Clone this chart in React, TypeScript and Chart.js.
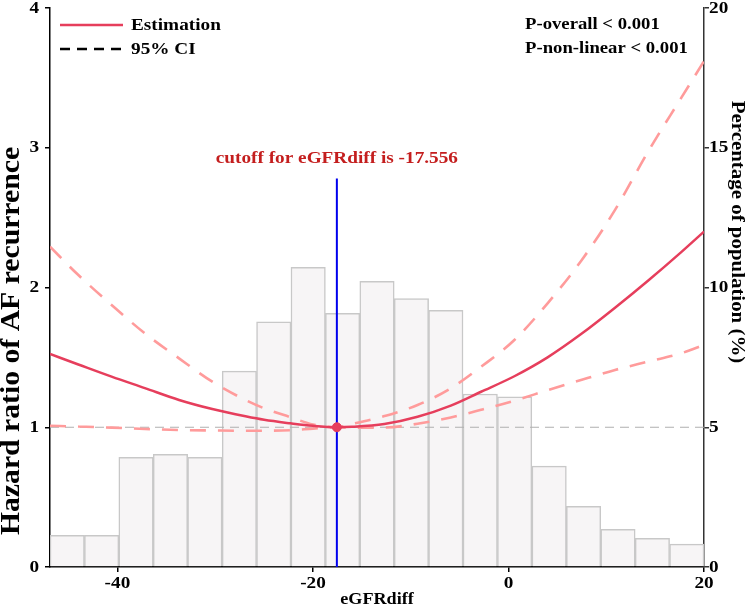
import React, { useEffect, useRef } from "react";
import { Chart, registerables } from "chart.js";
Chart.register(...registerables);

// ---------- data ----------
const X_MIN = -46.9;
const X_MAX = 20;
const xTicks = [-40, -20, 0, 20];
const hrTicks = [0, 1, 2, 3, 4];
const pctTicks = [0, 5, 10, 15, 20];

const binCenters = [-45.14, -41.62, -38.1, -34.58, -31.06, -27.53, -24.01, -20.49, -16.97, -13.45, -9.93, -6.41, -2.89, 0.63, 4.16, 7.68, 11.2, 14.72, 18.24];
const popPct = [1.13, 1.13, 3.92, 4.03, 3.92, 7.01, 8.77, 10.72, 9.08, 10.22, 9.6, 9.18, 6.19, 6.09, 3.61, 2.17, 1.35, 1.03, 0.82];

const curveX = [-46.9, -44, -40.6, -37.2, -33.7, -30.3, -26.9, -25, -22.3, -20, -17.556, -16, -12.7, -9.3, -5.9, -2.8, 0.6, 4, 7.5, 10.9, 14.3, 17.7, 20];
const hrEst = [1.524, 1.449, 1.362, 1.28, 1.195, 1.13, 1.078, 1.053, 1.028, 1.01, 1.0, 1.003, 1.023, 1.075, 1.155, 1.254, 1.365, 1.5, 1.67, 1.855, 2.05, 2.255, 2.4];
const hrUpper = [2.292, 2.089, 1.875, 1.672, 1.493, 1.326, 1.195, 1.136, 1.072, 1.02, 1.0, 1.023, 1.08, 1.159, 1.279, 1.433, 1.624, 1.887, 2.197, 2.555, 2.975, 3.36, 3.62];
const hrLower = [1.011, 1.005, 0.997, 0.988, 0.98, 0.977, 0.975, 0.975, 0.979, 0.99, 1.0, 0.997, 0.998, 1.025, 1.07, 1.125, 1.19, 1.265, 1.34, 1.41, 1.47, 1.53, 1.589];

const cutoff = -17.556;
const cutoffTop = 2.78;
const refHR = 1;

const EST_COLOR = "#E63E5C";
const CI_COLOR = "#FF9B9B";
const SX = 1.1;
const FONT = '"Liberation Serif", "Times New Roman", serif';

function drawText(
  ctx: CanvasRenderingContext2D,
  s: string,
  x: number,
  y: number,
  size: number,
  align: CanvasTextAlign,
  rot = 0,
  color = "#000",
  baseline: CanvasTextBaseline = "middle"
) {
  ctx.save();
  ctx.translate(x, y);
  if (rot) ctx.rotate(rot);
  ctx.scale(SX, 1);
  ctx.font = `bold ${size}px ${FONT}`;
  ctx.textAlign = align;
  ctx.textBaseline = baseline;
  ctx.fillStyle = color;
  ctx.fillText(s, 0, 0);
  ctx.restore();
}

const textPlugin = {
  id: "texts",
  afterDraw(chart: any) {
    const ctx: CanvasRenderingContext2D = chart.ctx;
    const { x, y, y2 } = chart.scales;
    const area = chart.chartArea;
    hrTicks.forEach((v) => drawText(ctx, String(v), 39, y.getPixelForValue(v), 17.5, "right"));
    pctTicks.forEach((v) => drawText(ctx, String(v), 709, y2.getPixelForValue(v), 17.5, "left"));
    xTicks.forEach((v) => drawText(ctx, String(v), x.getPixelForValue(v), 583, 17.5, "center"));

    drawText(ctx, "eGFRdiff", (area.left + area.right) / 2, 600, 16.5, "center");
    drawText(ctx, "Hazard ratio of AF recurrence", 19, 341, 27, "center", -Math.PI / 2, "#000", "alphabetic");
    drawText(ctx, "Percentage of population (%)", 732, 232, 19, "center", Math.PI / 2, "#000", "alphabetic");

    // legend
    ctx.save();
    ctx.lineWidth = 2.5;
    ctx.strokeStyle = EST_COLOR;
    ctx.beginPath();
    ctx.moveTo(60, 25);
    ctx.lineTo(123, 25);
    ctx.stroke();
    ctx.strokeStyle = "#000";
    ctx.setLineDash([10, 7]);
    ctx.beginPath();
    ctx.moveTo(60, 49);
    ctx.lineTo(123, 49);
    ctx.stroke();
    ctx.restore();
    drawText(ctx, "Estimation", 131, 25, 17.5, "left");
    drawText(ctx, "95% CI", 131, 49, 17.5, "left");

    drawText(ctx, "P-overall < 0.001", 525, 25, 17, "left");
    drawText(ctx, "P-non-linear < 0.001", 525, 49, 17, "left");

    drawText(ctx, "cutoff for eGFRdiff is -17.556", x.getPixelForValue(cutoff), 158, 17.5, "center", 0, "#C41E1E");
  },
};

const axisBase = (color: string) => ({
  ticks: { display: false },
  grid: { display: true, offset: false, drawOnChartArea: false, drawTicks: true, tickLength: 5, color, lineWidth: 1.5 },
  border: { display: true, color, width: 1.5 },
});

export default function App() {
  const ref = useRef<HTMLCanvasElement | null>(null);
  useEffect(() => {
    if (!ref.current) return;
    const pts = (ys: number[]) => curveX.map((v, i) => ({ x: v, y: ys[i] }));
    const chart = new Chart(ref.current, {
      type: "bar",
      data: {
        datasets: [
          {
            type: "bar",
            data: binCenters.map((c, i) => ({ x: c, y: popPct[i] })),
            yAxisID: "y2",
            backgroundColor: "#F7F5F6",
            borderColor: "#C8C8C8",
            borderWidth: 1.5,
            barPercentage: 1,
            categoryPercentage: 1,
            order: 10,
          } as any,
          {
            type: "line",
            data: [{ x: X_MIN, y: refHR }, { x: X_MAX, y: refHR }],
            yAxisID: "y",
            borderColor: "#B0B0B0",
            borderWidth: 1.2,
            borderDash: [9, 6],
            pointRadius: 0,
            order: 9,
          } as any,
          {
            type: "line",
            data: [{ x: cutoff, y: 0 }, { x: cutoff, y: cutoffTop }],
            yAxisID: "y",
            borderColor: "#0000EE",
            borderWidth: 2,
            pointRadius: 0,
            order: 8,
          } as any,
          {
            type: "line",
            data: pts(hrUpper),
            yAxisID: "y",
            borderColor: CI_COLOR,
            borderWidth: 2.6,
            borderDash: [16, 12],
            pointRadius: 0,
            cubicInterpolationMode: "monotone",
            order: 4,
          } as any,
          {
            type: "line",
            data: pts(hrLower),
            yAxisID: "y",
            borderColor: CI_COLOR,
            borderWidth: 2.6,
            borderDash: [16, 12],
            pointRadius: 0,
            cubicInterpolationMode: "monotone",
            order: 3,
          } as any,
          {
            type: "line",
            data: pts(hrEst),
            yAxisID: "y",
            borderColor: EST_COLOR,
            borderWidth: 2.5,
            pointRadius: 0,
            cubicInterpolationMode: "monotone",
            order: 2,
          } as any,
          {
            type: "scatter",
            data: [{ x: cutoff, y: refHR }],
            yAxisID: "y",
            backgroundColor: EST_COLOR,
            borderColor: EST_COLOR,
            pointRadius: 4.5,
            order: 1,
          } as any,
        ],
      },
      options: {
        animation: false,
        responsive: false,
        layout: { padding: { top: 8, left: 0, right: 0, bottom: 0 } },
        plugins: { legend: { display: false }, tooltip: { enabled: false } },
        scales: {
          x: {
            type: "linear",
            min: X_MIN,
            max: X_MAX,
            offset: false,
            afterBuildTicks: (s: any) => {
              s.ticks = xTicks.map((v) => ({ value: v }));
            },
            afterFit: (s: any) => {
              s.height = 44;
            },
            ...axisBase("#000"),
          },
          y: {
            type: "linear",
            position: "left",
            min: 0,
            max: 4,
            afterBuildTicks: (s: any) => {
              s.ticks = hrTicks.map((v) => ({ value: v }));
            },
            afterFit: (s: any) => {
              s.width = 50;
            },
            ...axisBase("#000"),
          },
          y2: {
            type: "linear",
            position: "right",
            min: 0,
            max: 20,
            afterBuildTicks: (s: any) => {
              s.ticks = pctTicks.map((v) => ({ value: v }));
            },
            afterFit: (s: any) => {
              s.width = 46;
            },
            ...axisBase("#333"),
          },
        },
      } as any,
      plugins: [textPlugin],
    });
    return () => chart.destroy();
  }, []);
  return (
    <div style={{ position: "absolute", left: 0, top: 0, width: 750, height: 611, background: "#fff" }}>
      <canvas ref={ref} width={750} height={611} style={{ display: "block" }} />
    </div>
  );
}
